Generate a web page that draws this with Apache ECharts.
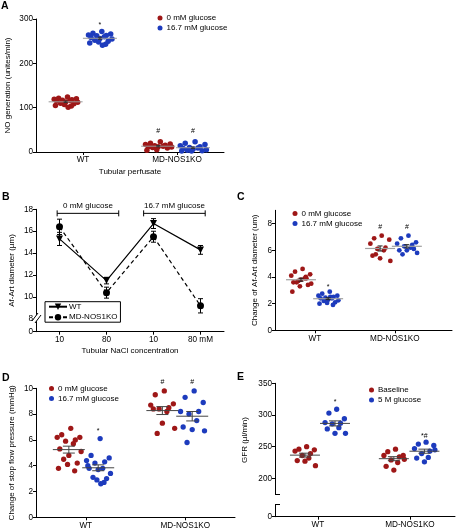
<!DOCTYPE html>
<html><head><meta charset="utf-8">
<script src="https://cdn.jsdelivr.net/npm/echarts@6/dist/echarts.min.js"></script>
<style>html,body{margin:0;padding:0;background:#fff}#c{width:456px;height:532px}</style>
</head><body><div id="c"></div>
<script>
// ---------------- DATA ----------------
// Panel A: NO generation (unites/min)
const aCats = ['WT', 'MD-NOS1KO'];
const aLegend = ['0 mM glucose', '16.7 mM glucose'];
const aWT0 = [124,121,120,119,118,117,116,115,113,112,110,109,107,105,104,101];
const aWT167 = [272,268,266,264,263,262,260,258,256,255,252,250,248,246,243,241];
const aKO0 = [23,20,18,17,15,14,13,12,12,11,10,9,5,4];
const aKO167 = [23,20,17,14,12,10,9,8,6,5,4,3,2,2];
const aMarks = ['', '*', '#', '#'];

// Panel B: Af-Art diameter (µm) vs tubular NaCl
const bTicks = ['10', '80', '10', '80 mM'];
const bSeriesNames = ['WT', 'MD-NOS1KO'];
const bWT = [15.3, 11.5, 16.7, 14.3];
const bWTerr = [0.6, 0.3, 0.45, 0.4];
const bKO = [16.4, 10.4, 15.5, 9.2];
const bKOerr = [0.7, 0.5, 0.5, 0.65];
const bBracketLabels = ['0 mM glucose', '16.7 mM glucose'];

// Panel C: Change of Af-Art diameter (um)
const cWT0 = [4.6,4.4,4.2,4.1,3.9,3.7,3.9,3.6,3.8,3.5,3.6,3.4,3.3,2.9,4.0];
const cWT167 = [2.9,2.75,2.6,2.6,2.5,2.45,2.4,2.4,2.3,2.25,2.2,2.1,2.05,2.0,1.9,2.5];
const cKO0 = [7.1,6.9,6.8,6.5,6.2,6.1,6.0,5.6,5.4,5.2,5.7];
const cKO167 = [7.1,6.9,6.6,6.5,6.4,6.3,6.2,6.0,6.0,5.8,5.7,6.1];
const cMarks = ['', '*', '#', '#'];

// Panel D: Change of stop flow pressure (mmHg)
const dWT0 = [6.9,6.4,6.2,6.2,6.0,5.9,5.7,5.3,4.8,5.1,4.5,4.2,4.1,3.8,3.6];
const dWT167 = [6.1,4.8,4.6,4.4,4.3,4.2,3.8,3.8,3.7,3.4,3.1,3.0,2.9,4.0,2.7,2.6];
const dKO0 = [9.8,9.5,8.8,8.7,8.5,8.4,8.2,8.4,7.3,6.9,6.5];
const dKO167 = [9.8,9.3,8.9,8.2,8.2,8.0,7.5,7.0,6.8,6.7,5.8];
const dMarks = ['', '*', '#', '#'];

// Panel E: GFR (µl/min)
const eLegend = ['Baseline', '5 M glucose'];
const eWTb = [250,246,245,243,239,236,232,228,227,220];
const eWTg = [309,303,294,288,287,286,280,278,271,271];
const eKOb = [246,242,236,236,234,229,225,219,213,230];
const eKOg = [257,254,252,247,243,239,233,232,226,245];
const eMarks = ['', '*', '', '*#'];

// ---------------- LAYOUT / STYLE ----------------
const RED = '#9e1717', BLUE = '#1d3bbd';
const FONT = '"Liberation Sans", Arial, Helvetica, sans-serif';
const JIT = [0.15,-0.55,0.85,-0.9,0.5,-0.25,0.35,-0.7,0.0,0.95,-0.4,0.65,-0.1,-0.8,0.45,0.2];

const grids = [
  {left:36, top:19, width:188, height:133},      // A
  {left:36, top:209.3, width:188, height:122.4}, // B
  {left:275, top:210.3, width:177, height:120},  // C
  {left:36, top:388.3, width:199, height:129},   // D
  {left:275, top:383.3, width:180, height:133.4} // E
];

function mean(a){return a.reduce((s,v)=>s+v,0)/a.length;}
function sem(a){const m=mean(a);const v=a.reduce((s,x)=>s+(x-m)*(x-m),0)/(a.length-1);return Math.sqrt(v/a.length);}

const axisLine = {show:true, lineStyle:{color:'#000', width:1}};
const tickStyle = {lineStyle:{color:'#000', width:1}};
const labStyle = {color:'#000', fontSize:8.2, fontFamily:FONT};

function catX(gi, min, max, cats) {
  return {type:'value', gridIndex:gi, min, max,
    axisLine, splitLine:{show:false},
    axisTick:{show:true, length:3, customValues:[1,3], ...tickStyle},
    axisLabel:{...labStyle, margin:4, customValues:[1,3], formatter:v => v < 2 ? cats[0] : cats[1]}};
}

function points(name, color, gi, pos, vals, hw, size) {
  return {type:'scatter', name, xAxisIndex:gi, yAxisIndex:gi, symbolSize:size, silent:true,
    itemStyle:{color, opacity:1}, z:2,
    data: vals.map((v,i) => [pos + JIT[i % JIT.length]*hw, v])};
}

function stats(gi, groups, cfg) {
  return {type:'custom', xAxisIndex:gi, yAxisIndex:gi, silent:true, z:5,
    data: groups.map(g => [g[0], mean(g[1]), sem(g[1])]),
    renderItem(params, api) {
      const x = api.value(0), m = api.value(1), s = api.value(2);
      const c = api.coord([x, m]);
      const ch = [{type:'line', shape:{x1:c[0]-cfg.hw, y1:c[1], x2:c[0]+cfg.hw, y2:c[1]},
        style:{stroke:cfg.meanColor, lineWidth:cfg.meanWidth}}];
      if (cfg.sem) {
        const t = api.coord([x, m+s]), b = api.coord([x, m-s]);
        ch.push({type:'line', shape:{x1:c[0], y1:t[1], x2:c[0], y2:b[1]}, style:{stroke:cfg.semColor, lineWidth:1}});
        ch.push({type:'line', shape:{x1:c[0]-cfg.cap, y1:t[1], x2:c[0]+cfg.cap, y2:t[1]}, style:{stroke:cfg.semColor, lineWidth:1}});
        ch.push({type:'line', shape:{x1:c[0]-cfg.cap, y1:b[1], x2:c[0]+cfg.cap, y2:b[1]}, style:{stroke:cfg.semColor, lineWidth:1}});
      }
      return {type:'group', children:ch};
    }};
}

function marks(gi, pts, texts) {
  return {type:'custom', xAxisIndex:gi, yAxisIndex:gi, silent:true, z:6,
    data: pts,
    renderItem(params, api) {
      const c = api.coord([api.value(0), api.value(1)]);
      return {type:'text', x:c[0], y:c[1], style:{text:texts[params.dataIndex], fill:'#000', fontSize:7, fontFamily:FONT, align:'center', verticalAlign:'middle'}};
    }};
}

function scatterLegend(left, top, names) {
  return {data:names, left, top, orient:'vertical', padding:0, itemGap:2, itemWidth:5, itemHeight:5,
    icon:'circle', selectedMode:false, textStyle:{fontSize:8, fontFamily:FONT, color:'#000', padding:[0,0,0,-1]}};
}

// group positions (in axis units)
const posA = [0.63, 1.36, 2.6, 3.34];
const posC = [0.65, 1.33, 2.63, 3.3];
const posD = [0.66, 1.25, 2.54, 3.14];
const posE = [0.717, 1.37, 2.65, 3.315];

const series = [];
// Panel A
series.push(points(aLegend[0], RED, 0, posA[0], aWT0, 0.27, 5.5));
series.push(points(aLegend[1], BLUE, 0, posA[1], aWT167, 0.27, 5.5));
series.push(points(aLegend[0], RED, 0, posA[2], aKO0, 0.3, 5.5));
series.push(points(aLegend[1], BLUE, 0, posA[3], aKO167, 0.3, 5.5));
series.push(stats(0, [[posA[0],aWT0],[posA[1],aWT167],[posA[2],aKO0],[posA[3],aKO167]],
  {hw:17, meanColor:'#9a9a9a', meanWidth:1, sem:true, semColor:'#333', cap:2}));
series.push(marks(0, [[posA[1], 287],[posA[2], 48],[posA[3], 48]], aMarks.slice(1)));

// Panel B
series.push({type:'custom', xAxisIndex:1, yAxisIndex:1, silent:true, z:1,
  data: bWT.map((v,i)=>[i+1, v, bWTerr[i]]).concat(bKO.map((v,i)=>[i+1, v, bKOerr[i]])),
  renderItem(params, api){
    const x=api.value(0), m=api.value(1), e=api.value(2);
    const t=api.coord([x,m+e]), b=api.coord([x,m-e]);
    const st={stroke:'#000', lineWidth:1};
    return {type:'group', children:[
      {type:'line', shape:{x1:t[0],y1:t[1],x2:b[0],y2:b[1]}, style:st},
      {type:'line', shape:{x1:t[0]-2.5,y1:t[1],x2:t[0]+2.5,y2:t[1]}, style:st},
      {type:'line', shape:{x1:b[0]-2.5,y1:b[1],x2:b[0]+2.5,y2:b[1]}, style:st}]};
  }});
series.push({type:'line', name:bSeriesNames[0], xAxisIndex:1, yAxisIndex:1, z:3,
  data: bWT.map((v,i)=>[i+1, v]), symbol:'triangle', symbolRotate:180, symbolSize:7,
  itemStyle:{color:'#000'}, lineStyle:{color:'#000', width:1.2}});
series.push({type:'line', name:bSeriesNames[1], xAxisIndex:1, yAxisIndex:1, z:3,
  data: bKO.map((v,i)=>[i+1, v]), symbol:'circle', symbolSize:7,
  itemStyle:{color:'#000'}, lineStyle:{color:'#000', width:1.2, type:[4,3]}});
// brackets
const bBrackets = [[0.95, 2.26], [2.79, 4.1]];
series.push({type:'custom', xAxisIndex:1, yAxisIndex:1, silent:true, z:3,
  data: bBrackets.map(b => [b[0], b[1], 17.63]),
  renderItem(params, api){
    const p1=api.coord([api.value(0), api.value(2)]), p2=api.coord([api.value(1), api.value(2)]);
    const st={stroke:'#000', lineWidth:1};
    return {type:'group', children:[
      {type:'line', shape:{x1:p1[0],y1:p1[1],x2:p2[0],y2:p2[1]}, style:st},
      {type:'line', shape:{x1:p1[0],y1:p1[1]-3,x2:p1[0],y2:p1[1]+3}, style:st},
      {type:'line', shape:{x1:p2[0],y1:p2[1]-3,x2:p2[0],y2:p2[1]+3}, style:st},
      {type:'text', x:(p1[0]+p2[0])/2, y:p1[1]-8, style:{text:bBracketLabels[params.dataIndex], fill:'#000', fontSize:8, fontFamily:FONT, align:'center', verticalAlign:'middle'}}]};
  }});

// Panel C
series.push(points(aLegend[0], RED, 2, posC[0], cWT0, 0.27, 4.8));
series.push(points(aLegend[1], BLUE, 2, posC[1], cWT167, 0.27, 4.8));
series.push(points(aLegend[0], RED, 2, posC[2], cKO0, 0.27, 4.8));
series.push(points(aLegend[1], BLUE, 2, posC[3], cKO167, 0.27, 4.8));
series.push(stats(2, [[posC[0],cWT0],[posC[1],cWT167],[posC[2],cKO0],[posC[3],cKO167]],
  {hw:15, meanColor:'#a0a0a0', meanWidth:1.2, sem:true, semColor:'#222', cap:2.5}));
series.push(marks(2, [[posC[1], 3.25],[posC[2], 7.75],[posC[3], 7.75]], cMarks.slice(1)));

// Panel D
series.push(points(aLegend[0], RED, 3, posD[0], dWT0, 0.26, 5.3));
series.push(points(aLegend[1], BLUE, 3, posD[1], dWT167, 0.26, 5.3));
series.push(points(aLegend[0], RED, 3, posD[2], dKO0, 0.26, 5.3));
series.push(points(aLegend[1], BLUE, 3, posD[3], dKO167, 0.26, 5.3));
series.push(stats(3, [[posD[0],dWT0],[posD[1],dWT167],[posD[2],dKO0],[posD[3],dKO167]],
  {hw:16, meanColor:'#444', meanWidth:1, sem:true, semColor:'#444', cap:6}));
series.push(marks(3, [[posD[1], 6.7],[posD[2], 10.45],[posD[3], 10.45]], dMarks.slice(1)));

// Panel E
series.push(points(eLegend[0], RED, 4, posE[0], eWTb, 0.24, 5.3));
series.push(points(eLegend[1], BLUE, 4, posE[1], eWTg, 0.24, 5.3));
series.push(points(eLegend[0], RED, 4, posE[2], eKOb, 0.24, 5.3));
series.push(points(eLegend[1], BLUE, 4, posE[3], eKOg, 0.24, 5.3));
series.push(stats(4, [[posE[0],eWTb],[posE[1],eWTg],[posE[2],eKOb],[posE[3],eKOg]],
  {hw:15, meanColor:'#444', meanWidth:1, sem:true, semColor:'#444', cap:6}));
series.push(marks(4, [[posE[1], 320],[posE[3], 267]], [eMarks[1], eMarks[3]]));

const nameStyle = {fontSize:8, fontFamily:FONT, color:'#000'};
const yBase = (gi, extra) => Object.assign({type:'value', gridIndex:gi, axisLine, splitLine:{show:false},
  axisTick:{show:true, length:3, ...tickStyle}, axisLabel:{...labStyle, margin:3},
  nameLocation:'middle', nameRotate:90, nameTextStyle:nameStyle}, extra);

const option = {
  animation:false,
  backgroundColor:'#fff',
  textStyle:{fontFamily:FONT},
  grid: grids,
  xAxis: [
    Object.assign(catX(0, 0, 4, aCats), {name:'Tubular perfusate', nameLocation:'middle', nameGap:16, nameTextStyle:nameStyle}),
    {type:'value', gridIndex:1, min:0.5, max:4.5, axisLine, splitLine:{show:false},
      axisTick:{show:true, length:3, customValues:[1,2,3,4], ...tickStyle},
      axisLabel:{...labStyle, margin:4, customValues:[1,2,3,4], formatter:v => bTicks[Math.round(v)-1]},
      name:'Tubular NaCl concentration', nameLocation:'middle', nameGap:15, nameTextStyle:nameStyle},
    catX(2, 0, 4.43, aCats),
    catX(3, 0, 4, aCats),
    catX(4, 0.065, 3.98, aCats)
  ],
  yAxis: [
    yBase(0, {min:0, max:300, interval:100, name:'NO generation (unites/min)', nameGap:24}),
    yBase(1, {min:6.84, max:18, name:'Af-Art diameter (\u00b5m)', nameGap:20,
      axisTick:{show:true, length:3, customValues:[6.84,8,10,12,14,16,18], ...tickStyle},
      axisLabel:{...labStyle, margin:3, customValues:[6.84,8,10,12,14,16,18], formatter:v => v < 7 ? '0' : String(v)}}),
    yBase(2, {min:0, max:9, name:'Change of Af-Art diameter (um)', nameGap:16,
      axisTick:{show:true, length:3, customValues:[0,2,4,6,8], ...tickStyle},
      axisLabel:{...labStyle, margin:3, customValues:[0,2,4,6,8]}}),
    yBase(3, {min:0, max:10, interval:2, name:'Change of stop flow pressure (mmHg)', nameGap:20}),
    yBase(4, {min:139.4, max:350,
      axisTick:{show:true, length:3, customValues:[139.4,200,250,300,350], ...tickStyle},
      axisLabel:{...labStyle, margin:3, customValues:[139.4,200,250,300,350], formatter:v => v < 150 ? '0' : String(v)}})
  ],
  legend: [
    scatterLegend(157.5, 14, aLegend),
    {data:bSeriesNames, left:45, top:301.7, orient:'vertical', padding:[1,3,1,3], itemGap:2.5,
      itemWidth:18, itemHeight:8, selectedMode:false, borderColor:'#000', borderWidth:1, borderRadius:0,
      backgroundColor:'#fff', textStyle:{fontSize:8, fontFamily:FONT, color:'#000', padding:[0,0,0,-3]}},
    scatterLegend(292.5, 209.5, aLegend),
    scatterLegend(49, 384.5, aLegend),
    scatterLegend(369, 386, eLegend)
  ],
  graphic: [
    {type:'text', left:1, top:1, style:{text:'A', font:'bold 10.5px ' + FONT, fill:'#000'}},
    {type:'text', left:2, top:192, style:{text:'B', font:'bold 10.5px ' + FONT, fill:'#000'}},
    {type:'text', left:237, top:192, style:{text:'C', font:'bold 10.5px ' + FONT, fill:'#000'}},
    {type:'text', left:2, top:373, style:{text:'D', font:'bold 10.5px ' + FONT, fill:'#000'}},
    {type:'text', left:237, top:372, style:{text:'E', font:'bold 10.5px ' + FONT, fill:'#000'}},
    // E y-axis name
    {type:'text', x:245, y:440, rotation:Math.PI/2, style:{text:'GFR (\u00b5l/min)', fill:'#000', fontSize:8, fontFamily:FONT, align:'center', verticalAlign:'middle'}, z:10},
    // E axis break
    {type:'rect', shape:{x:273, y:495, width:5, height:9}, style:{fill:'#fff'}, z:100},
    {type:'line', shape:{x1:275, y1:494.5, x2:280, y2:494.5}, style:{stroke:'#000', lineWidth:1}, z:101},
    {type:'line', shape:{x1:275, y1:504.5, x2:280, y2:504.5}, style:{stroke:'#000', lineWidth:1}, z:101},
    // B axis break
    {type:'polygon', shape:{points:[[32,321],[38,313],[41,315],[35,323]]}, style:{fill:'#fff'}, z:100},
    {type:'line', shape:{x1:32, y1:321, x2:38, y2:313}, style:{stroke:'#000', lineWidth:1}, z:101},
    {type:'line', shape:{x1:35, y1:323, x2:41, y2:315}, style:{stroke:'#000', lineWidth:1}, z:101}
  ],
  series
};
const chart = echarts.init(document.getElementById('c'), null, {renderer:'canvas'});
chart.setOption(option);
</script></body></html>
